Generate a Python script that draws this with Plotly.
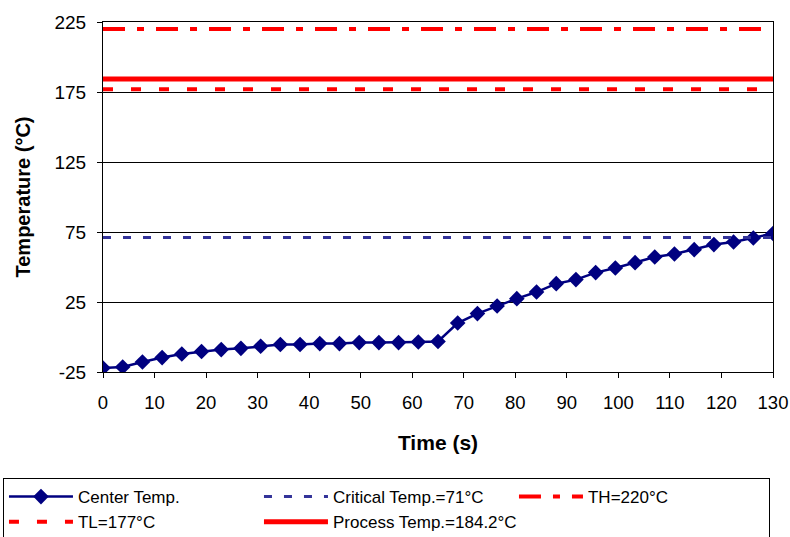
import plotly.graph_objects as go

# Data
time_s = [0.0, 3.82, 7.65, 11.47, 15.29, 19.12, 22.94, 26.76, 30.59, 34.41,
          38.24, 42.06, 45.88, 49.71, 53.53, 57.35, 61.18, 65.0, 68.82, 72.65,
          76.47, 80.29, 84.12, 87.94, 91.76, 95.59, 99.41, 103.24, 107.06, 110.88,
          114.71, 118.53, 122.35, 126.18, 130.0]
center_temp = [-22.1, -21.4, -17.9, -14.7, -12.1, -10.4, -9.0, -8.1, -6.6, -5.4,
               -5.4, -4.7, -4.7, -4.0, -4.0, -4.0, -3.6, -3.2, 10.0, 16.7,
               22.1, 27.4, 32.1, 38.1, 41.0, 46.0, 49.3, 53.1, 57.1, 59.3,
               62.4, 66.0, 67.9, 70.7, 73.9]

line_span = [0, 130]
critical_temp = 71
th_temp = 220
tl_temp = 177
process_temp = 184.2

y_ticks = [-25, 25, 75, 125, 175, 225]
y_tick_labels = ["-25", "25", "75", "125", "175", "225"]
x_ticks = list(range(0, 131, 10))

fig = go.Figure()

fig.add_trace(go.Scatter(
    x=time_s, y=center_temp, mode="lines+markers", name="Center Temp.",
    line=dict(color="#000080", width=2.5),
    marker=dict(symbol="diamond", size=12, color="#000080"),
))
fig.add_trace(go.Scatter(
    x=line_span, y=[critical_temp] * 2, mode="lines", name="Critical Temp.=71°C",
    line=dict(color="#333399", width=3, dash="8px,12px"),
))
fig.add_trace(go.Scatter(
    x=line_span, y=[th_temp] * 2, mode="lines", name="TH=220°C",
    line=dict(color="#ff0000", width=4, dash="22px,12px,7px,12px"),
))
fig.add_trace(go.Scatter(
    x=line_span, y=[tl_temp] * 2, mode="lines", name="TL=177°C",
    line=dict(color="#ff0000", width=4, dash="10px,18px"),
))
fig.add_trace(go.Scatter(
    x=line_span, y=[process_temp] * 2, mode="lines", name="Process Temp.=184.2°C",
    line=dict(color="#ff0000", width=5),
))

font_family = "Liberation Sans, Arial, sans-serif"

fig.update_layout(
    width=790, height=537,
    margin=dict(l=103, r=17, t=22, b=165, autoexpand=False),
    paper_bgcolor="white", plot_bgcolor="white",
    font=dict(family=font_family, color="black"),
    showlegend=True,
    legend=dict(
        orientation="h", x=-0.1493, xanchor="left", y=-0.303, yanchor="top",
        bordercolor="black", borderwidth=1,
        font=dict(size=17, family=font_family),
        entrywidth=176, entrywidthmode="pixels",
        itemwidth=64, tracegroupgap=0,
    ),
    xaxis=dict(
        range=[0, 130], tickvals=x_ticks, showgrid=False,
        ticks="outside", ticklen=5, tickcolor="black",
        showline=True, linecolor="black", linewidth=1, mirror=True,
        tickfont=dict(size=18.5), ticklabelstandoff=9,
        title=dict(text="<b>Time (s)</b>", font=dict(size=21), standoff=23),
        zeroline=False, automargin=False,
    ),
    yaxis=dict(
        range=[-25, 225], tickvals=y_ticks, ticktext=y_tick_labels, showgrid=True,
        gridcolor="black", gridwidth=1,
        ticks="outside", ticklen=5, tickcolor="black",
        showline=True, linecolor="black", linewidth=1, mirror=True,
        tickfont=dict(size=19), ticklabelstandoff=7,
        title=dict(text="<b>Temperature (°C)</b>", font=dict(size=20), standoff=18),
        zeroline=False, automargin=False,
    ),
)

fig.write_html(
    "out.html",
    config={"displayModeBar": False},
    post_script="document.body.style.margin='0';document.body.style.overflow='hidden';",
)
